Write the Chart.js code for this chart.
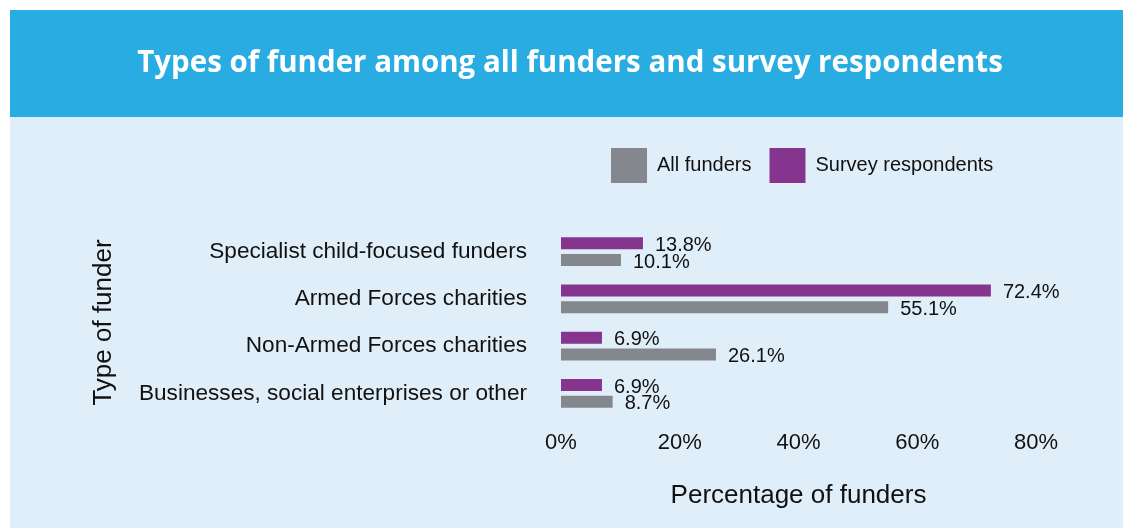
<!DOCTYPE html>
<html>
<head>
<meta charset="utf-8">
<script src="https://cdn.jsdelivr.net/npm/chart.js@4/dist/chart.umd.min.js"></script>
<style>
  html, body { margin: 0; padding: 0; background: #ffffff; }
  #wrap { width: 1123px; height: 528px; }
</style>
</head>
<body>
<div id="wrap"><canvas id="c" width="1123" height="528"></canvas></div>
<script>
const chartTitle = 'Types of funder among all funders and survey respondents';
const categories = [
  'Specialist child-focused funders',
  'Armed Forces charities',
  'Non-Armed Forces charities',
  'Businesses, social enterprises or other'
];
const allFunders = [10.1, 55.1, 26.1, 8.7];
const surveyRespondents = [13.8, 72.4, 6.9, 6.9];
const tickValues = [0, 20, 40, 60, 80];
const xAxisTitle = 'Percentage of funders';
const yAxisTitle = 'Type of funder';

const FONT = '"Liberation Sans", Arial, Helvetica, sans-serif';
const GRAY = '#84878e';
const PURPLE = '#86358f';
const TEXT = '#111111';

const background = {
  id: 'background',
  beforeDraw(chart) {
    const ctx = chart.ctx;
    ctx.save();
    ctx.fillStyle = '#ffffff';
    ctx.fillRect(0, 0, chart.width, chart.height);
    ctx.fillStyle = '#28ace2';
    ctx.fillRect(10, 10, chart.width - 10, 107);
    ctx.fillStyle = '#e0eef9';
    ctx.fillRect(10, 117, chart.width - 10, chart.height - 117);
    ctx.restore();
  }
};

const placeBoxes = {
  id: 'placeBoxes',
  afterLayout(chart) {
    const lg = chart.legend;
    if (lg) {
      const pad = lg.options.labels.padding;
      const h = lg.bottom - lg.top;
      lg.left = 611 - pad; lg.right = chart.width;
      lg.top = 148 - pad; lg.bottom = lg.top + h;
    }
    const t = chart.titleBlock;
    if (t) { t.left = 17; t.right = chart.width; }
  }
};

const valueLabels = {
  id: 'valueLabels',
  afterDatasetsDraw(chart) {
    const ctx = chart.ctx;
    ctx.save();
    ctx.font = '20px ' + FONT;
    ctx.fillStyle = TEXT;
    ctx.textAlign = 'left';
    ctx.textBaseline = 'middle';
    chart.data.datasets.forEach((ds, i) => {
      const meta = chart.getDatasetMeta(i);
      if (meta.hidden) return;
      meta.data.forEach((bar, j) => {
        ctx.fillText(ds.data[j].toFixed(1) + '%', bar.x + 12, bar.y + 2);
      });
    });
    ctx.restore();
  }
};

new Chart(document.getElementById('c'), {
  type: 'bar',
  data: {
    labels: categories,
    datasets: [
      { label: 'Survey respondents', data: surveyRespondents, backgroundColor: PURPLE,
        categoryPercentage: 0.71, barPercentage: 0.71 },
      { label: 'All funders', data: allFunders, backgroundColor: GRAY,
        categoryPercentage: 0.71, barPercentage: 0.71 }
    ]
  },
  options: {
    indexAxis: 'y',
    responsive: false,
    animation: false,
    layout: { padding: { left: 88, right: 87, top: 0, bottom: 0 } },
    plugins: {
      title: {
        display: true,
        text: chartTitle,
        color: '#ffffff',
        font: { family: '"Open Sans", sans-serif', weight: 'bold', size: 29.5, lineHeight: 1.2 },
        padding: { top: 46.3, bottom: 83.3 }
      },
      legend: {
        display: true,
        position: 'top',
        align: 'start',
        reverse: true,
        labels: {
          boxWidth: 36,
          boxHeight: 35,
          padding: 18,
          color: TEXT,
          font: { family: FONT, size: 20 }
        }
      },
      tooltip: { enabled: false }
    },
    scales: {
      x: {
        min: 0,
        max: 80,
        afterBuildTicks(scale) { scale.ticks = tickValues.map(v => ({ value: v })); },
        afterFit(scale) { scale.height = 111; },
        grid: { display: false, drawTicks: false },
        border: { display: false },
        ticks: {
          padding: 13,
          color: TEXT,
          font: { family: FONT, size: 22 },
          callback: v => v + '%'
        },
        title: {
          display: true,
          text: xAxisTitle,
          color: TEXT,
          font: { family: FONT, size: 26, lineHeight: 1.2 },
          padding: { top: 21, bottom: 17 }
        }
      },
      y: {
        afterFit(scale) { scale.width = 473; },
        grid: { display: false, drawTicks: false },
        border: { display: false },
        ticks: {
          padding: 34,
          color: TEXT,
          font: { family: FONT, size: 22.6 }
        },
        title: {
          display: true,
          text: yAxisTitle,
          color: TEXT,
          font: { family: FONT, size: 26, lineHeight: 1.2 },
          padding: { top: 0, bottom: 19 }
        }
      }
    }
  },
  plugins: [background, placeBoxes, valueLabels]
});
</script>
</body>
</html>
